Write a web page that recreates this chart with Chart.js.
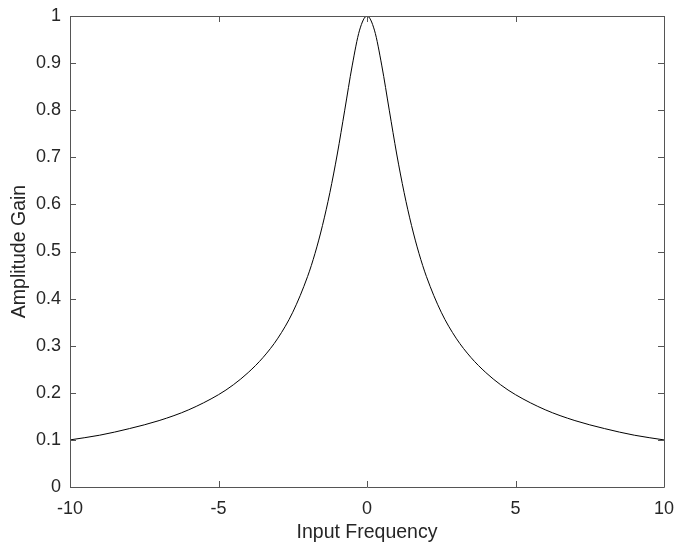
<!DOCTYPE html>
<html>
<head>
<meta charset="utf-8">
<script src="https://cdn.jsdelivr.net/npm/chart.js@4.4.0/dist/chart.umd.min.js"></script>
<style>
html,body{margin:0;padding:0;background:#fff;}
canvas{display:block;}
</style>
</head>
<body>
<canvas id="c" width="674" height="544"></canvas>
<script>
// Input frequency samples (x) and amplitude gain (y)
const freq = [-10,-9,-8,-7,-6,-5,-4.5,-4,-3.5,-3,-2.5,-2,-1.75,-1.5,-1.25,-1,-0.75,-0.5,-0.25,0,
              0.25,0.5,0.75,1,1.25,1.5,1.75,2,2.5,3,3.5,4,4.5,5,6,7,8,9,10];
const gain = [0.100,0.110,0.124,0.141,0.164,0.196,0.217,0.243,0.275,0.316,0.371,0.447,0.496,0.555,0.625,0.707,0.800,0.894,0.970,1.000,
              0.970,0.894,0.800,0.707,0.625,0.555,0.496,0.447,0.371,0.316,0.275,0.243,0.217,0.196,0.164,0.141,0.124,0.110,0.100];
const xTicks = [-10,-5,0,5,10];
const yTicks = [0,0.1,0.2,0.3,0.4,0.5,0.6,0.7,0.8,0.9,1];

const points = freq.map((f,i)=>({x:f,y:gain[i]}));
const AX = '#555555';
const TXT = '#262626';
const FONT = 'Liberation Sans, Arial, Helvetica, sans-serif';

const boxTicks = {
  id:'boxTicks',
  afterDraw(chart){
    const {ctx, chartArea:a, scales:{x,y}} = chart;
    ctx.save();
    ctx.strokeStyle = AX;
    ctx.lineWidth = 1;
    ctx.beginPath();
    ctx.rect(Math.round(a.left)+0.5, Math.round(a.top)+0.5, Math.round(a.right-a.left), Math.round(a.bottom-a.top));
    const L = 6;
    yTicks.forEach(v=>{
      const p = Math.round(y.getPixelForValue(v))+0.5;
      ctx.moveTo(a.left, p); ctx.lineTo(a.left+L, p);
      ctx.moveTo(a.right, p); ctx.lineTo(a.right-L, p);
    });
    xTicks.forEach(v=>{
      const p = Math.round(x.getPixelForValue(v))+0.5;
      ctx.moveTo(p, a.bottom); ctx.lineTo(p, a.bottom-L);
      ctx.moveTo(p, a.top); ctx.lineTo(p, a.top+L);
    });
    ctx.stroke();
    ctx.restore();
  }
};

new Chart(document.getElementById('c'), {
  type:'scatter',
  data:{datasets:[{
    data:points,
    showLine:true,
    borderColor:'#000000',
    borderWidth:1,
    pointRadius:0,
    cubicInterpolationMode:'monotone',
    fill:false
  }]},
  options:{
    responsive:false,
    animation:false,
    devicePixelRatio:1,
    layout:{padding:{top:16,right:10,left:0,bottom:0}},
    plugins:{legend:{display:false},tooltip:{enabled:false}},
    scales:{
      x:{
        type:'linear',min:-10,max:10,
        afterBuildTicks(s){ s.ticks = xTicks.map(v=>({value:v})); },
        afterFit(s){ s.height = 57; s.paddingLeft = 0; s.paddingRight = 0; },
        grid:{display:false,drawTicks:false},
        border:{display:false},
        ticks:{color:TXT,font:{family:FONT,size:18},padding:11,maxRotation:0,
               callback:v=>String(v)},
        title:{display:true,text:'Input Frequency',color:TXT,font:{family:FONT,size:19.5},padding:{top:0,bottom:0}}
      },
      y:{
        type:'linear',min:0,max:1,
        afterBuildTicks(s){ s.ticks = yTicks.map(v=>({value:v})); },
        afterFit(s){ s.width = 70; s.paddingTop = 0; s.paddingBottom = 0; },
        grid:{display:false,drawTicks:false},
        border:{display:false},
        ticks:{color:TXT,font:{family:FONT,size:18},padding:9,
               callback:v=>String(Math.round(v*10)/10)},
        title:{display:true,text:'Amplitude Gain',color:TXT,font:{family:FONT,size:19.5},padding:{top:8,bottom:0}}
      }
    }
  },
  plugins:[boxTicks]
});
</script>
</body>
</html>
